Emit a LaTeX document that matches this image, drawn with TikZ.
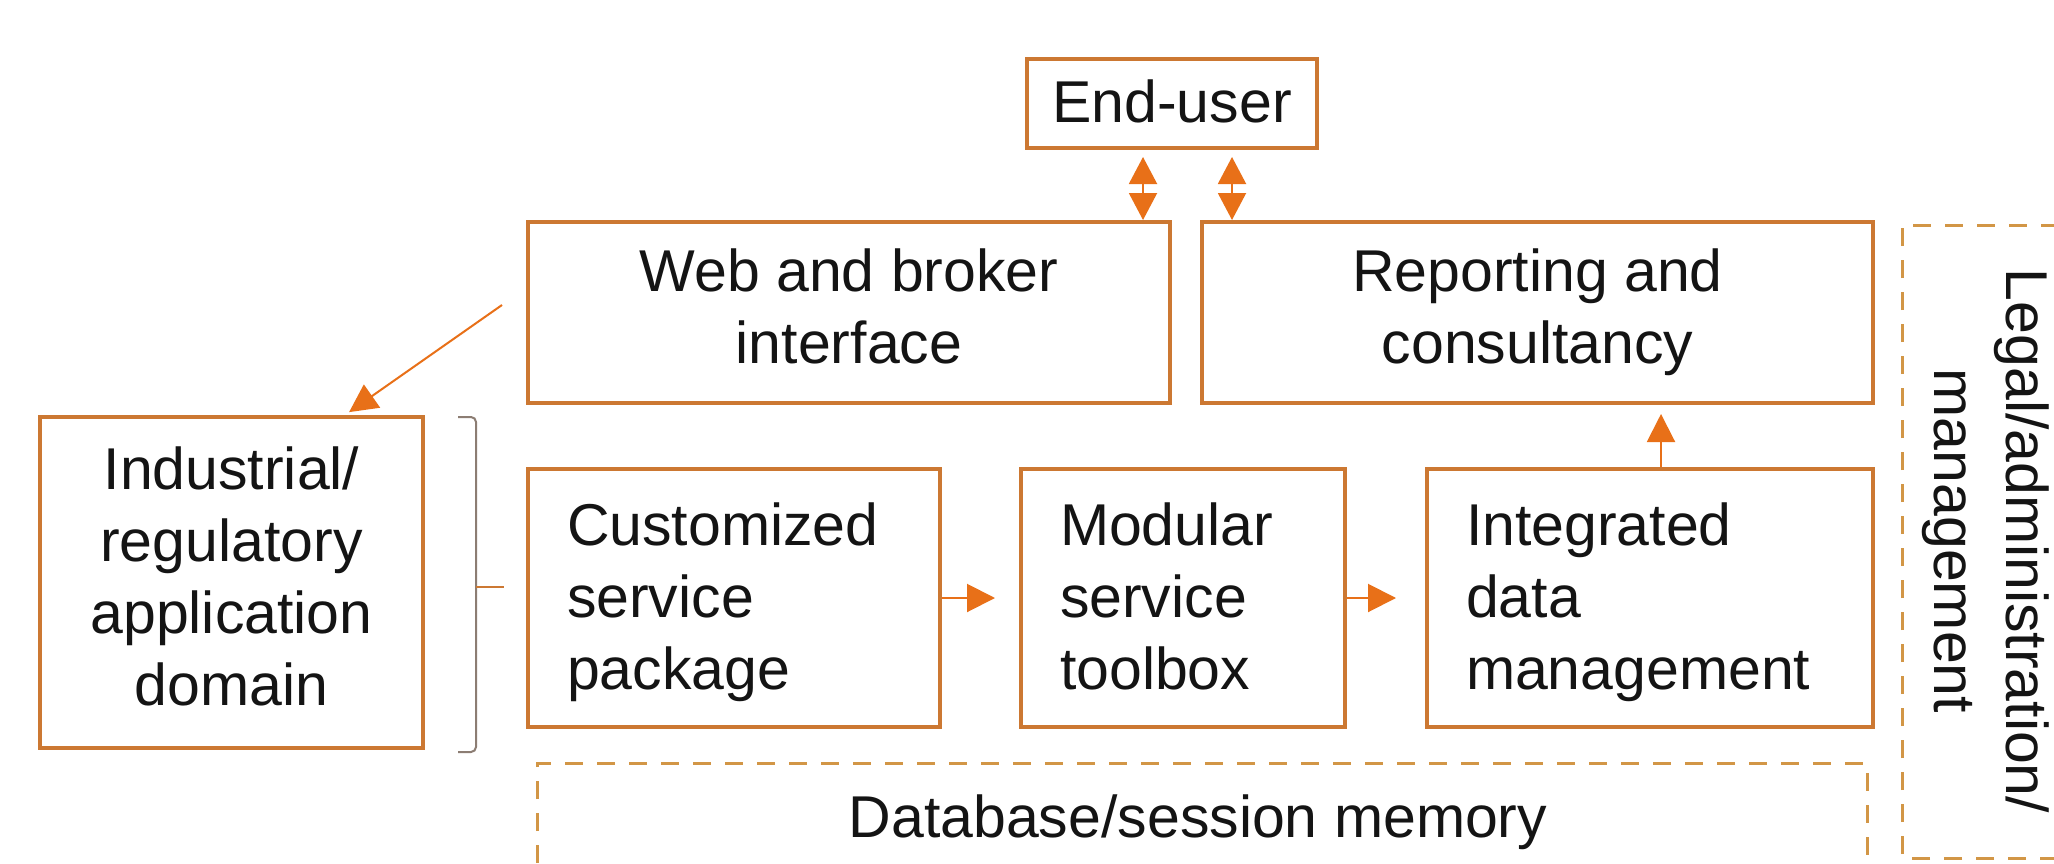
\documentclass[tikz,border=0pt]{standalone}
\usepackage{fontspec}
\setmainfont{Liberation Sans}
\usetikzlibrary{arrows.meta,calc}
\definecolor{boxc}{RGB}{204,120,50}
\definecolor{arrc}{RGB}{232,112,24}
\definecolor{dashc}{RGB}{210,150,70}
\definecolor{brackc}{RGB}{140,125,115}
\definecolor{txtc}{RGB}{20,20,20}
\newcommand\bigfs{\fontsize{59}{72}\selectfont}
\newcommand\linestrut{\rule[-13pt]{0pt}{65pt}}
\tikzset{
  blk/.style={draw=boxc, line width=4pt, inner sep=0pt, font=\bigfs, text=txtc, align=center,
    execute at begin node=\linestrut, execute at end node=\linestrut},
  lblk/.style={blk, align=left, inner xsep=39pt},
  arr/.style={draw=arrc, line width=2pt, -{Triangle[length=28pt,width=28pt]}},
  darr/.style={draw=arrc, line width=2pt, {Triangle[length=27pt,width=28pt]}-{Triangle[length=27pt,width=28pt]}},
  dbox/.style={draw=dashc, line width=3pt, dash pattern=on 18pt off 14pt},
  lbl/.style={font=\bigfs, text=txtc, inner sep=0pt}
}
\begin{document}
\begin{tikzpicture}[x=1pt,y=-1pt]
\useasboundingbox (0,0) rectangle (2054,864);
\clip (0,0) rectangle (2054,864);
\fill[white] (0,0) rectangle (2054,864);

% nodes
\node[blk, minimum width=290pt, minimum height=89pt] (enduser) at (1172,103.5) {End-user};
\node[blk, minimum width=642pt, minimum height=181pt] (web) at (849,312.5) {Web and broker\\interface};
\node[blk, minimum width=671pt, minimum height=181pt] (report) at (1537.5,312.5) {Reporting and\\consultancy};
\node[blk, minimum width=383pt, minimum height=331pt] (ind) at (231.5,582.5) {Industrial/\\regulatory\\application\\domain};
\node[lblk, minimum width=412pt, minimum height=258pt, text width=334pt] (custom) at (734,598) {Customized\\service\\package};
\node[lblk, minimum width=324pt, minimum height=258pt, text width=246pt] (modular) at (1183,598) {Modular\\service\\toolbox};
\node[lblk, minimum width=446pt, minimum height=258pt, text width=368pt] (integ) at (1650,598) {Integrated\\data\\management};

% database dashed box
\draw[dbox] (537,895) -- (537,763) -- (1867,763) -- (1867,895);
\node[lbl, anchor=base] (db) at (1198,837) {Database/session memory};

% legal dashed box
\draw[dbox] (2090,858) -- (1902,858) -- (1902,225) -- (2090,225);
\node[lbl, rotate=-90, align=center] (legal) at (1986,541) {Legal/administration/\\management};

% bracket
\draw[brackc, line width=2pt, rounded corners=5pt] (458,417) -- (476,417) -- (476,752) -- (458,752);
\draw[boxc, line width=2pt] (476,587) -- (504,587);

% connectors
\draw[darr, shorten <=7pt] ([xshift=-29pt]enduser.south) -- ([xshift=294pt]web.north);
\draw[darr, shorten <=7pt] ([xshift=60pt]enduser.south) -- ([xshift=-305.5pt]report.north);
\coordinate (ws) at ([xshift=-24pt,yshift=7.5pt]web.west);
\draw[arr, shorten >=5pt] (ws) -- ([xshift=113.5pt]ind.north);
\draw[arr] (custom.east) -- ([xshift=-24pt]modular.west);
\draw[arr] (modular.east) -- ([xshift=-29pt]integ.west);
\draw[arr, shorten >=9pt] ([xshift=11pt]integ.north) -- ([xshift=123.5pt]report.south);
\end{tikzpicture}
\end{document}
